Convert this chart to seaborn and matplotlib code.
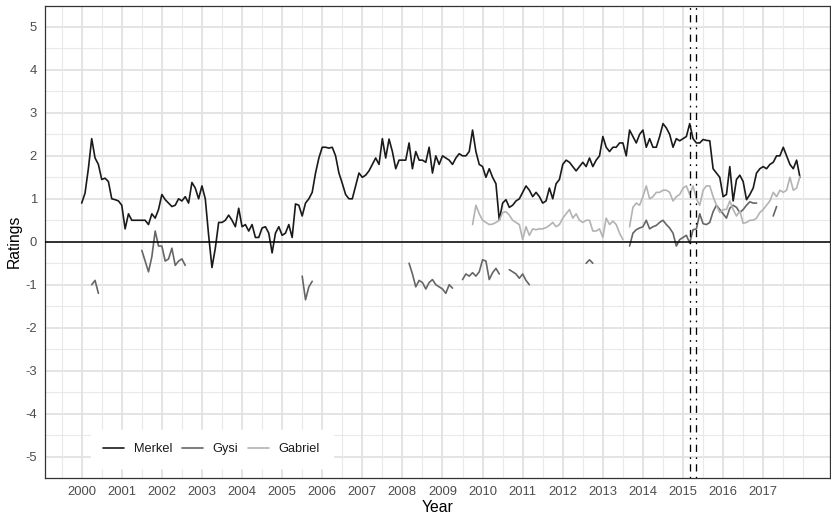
import numpy as np
import pandas as pd
import matplotlib
matplotlib.use("Agg")
import matplotlib.pyplot as plt
import seaborn as sns

# ---------------- data (monthly ratings, first value = Jan 2000) ----------------
merkel = [
    0.9, 1.13, 1.7, 2.4, 1.95, 1.8, 1.45, 1.48, 1.4, 1.0, 0.98, 0.95,          # 2000
    0.85, 0.3, 0.65, 0.5, 0.5, 0.5, 0.5, 0.5, 0.4, 0.65, 0.55, 0.75,          # 2001
    1.1, 0.98, 0.9, 0.82, 0.85, 1.0, 0.95, 1.05, 0.9, 1.38, 1.25, 1.0,         # 2002
    1.3, 1.0, 0.15, -0.6, -0.15, 0.45, 0.45, 0.5, 0.62, 0.5, 0.35, 0.78,      # 2003
    0.35, 0.4, 0.25, 0.4, 0.1, 0.1, 0.32, 0.35, 0.2, -0.26, 0.2, 0.35,        # 2004
    0.15, 0.2, 0.4, 0.1, 0.88, 0.85, 0.6, 0.9, 1.0, 1.15, 1.6, 1.95,          # 2005
    2.2, 2.2, 2.18, 2.2, 2.0, 1.6, 1.36, 1.1, 1.0, 1.0, 1.3, 1.6,             # 2006
    1.5, 1.55, 1.65, 1.8, 1.95, 1.8, 2.4, 1.95, 2.39, 2.1, 1.7, 1.9,          # 2007
    1.9, 1.9, 2.3, 1.7, 2.1, 1.9, 1.9, 1.85, 2.2, 1.6, 2.0, 1.8,              # 2008
    2.0, 1.95, 1.9, 1.8, 1.95, 2.05, 2.0, 2.0, 2.1, 2.6, 2.1, 1.8,            # 2009
    1.75, 1.5, 1.7, 1.5, 1.35, 0.5, 0.9, 0.98, 0.8, 0.85, 0.95, 1.0,          # 2010
    1.15, 1.3, 1.2, 1.05, 1.15, 1.05, 0.9, 0.95, 1.25, 1.0, 1.35, 1.45,       # 2011
    1.8, 1.9, 1.85, 1.75, 1.65, 1.75, 1.85, 1.75, 1.95, 1.75, 1.9, 2.0,       # 2012
    2.45, 2.2, 2.1, 2.2, 2.2, 2.3, 2.3, 2.0, 2.6, 2.45, 2.3, 2.5,             # 2013
    2.6, 2.2, 2.4, 2.2, 2.2, 2.45, 2.75, 2.65, 2.5, 2.2, 2.4, 2.35,           # 2014
    2.4, 2.45, 2.75, 2.4, 2.3, 2.3, 2.38, 2.36, 2.35, 1.7, 1.6, 1.5,          # 2015
    1.05, 1.1, 1.75, 0.95, 1.45, 1.55, 1.4, 0.98, 1.1, 1.25, 1.6, 1.7,        # 2016
    1.75, 1.7, 1.8, 1.85, 2.0, 2.0, 2.2, 2.0, 1.8, 1.7, 1.9, 1.5,             # 2017
]

# (first month, monthly values) for each uninterrupted stretch
gysi_segments = [
    ("2000-04", [-1.0, -0.9, -1.2]),
    ("2001-07", [-0.2, -0.45, -0.7, -0.35, 0.25, -0.1, -0.1, -0.45, -0.4, -0.15,
                 -0.55, -0.45, -0.4, -0.55]),
    ("2005-07", [-0.8, -1.35, -1.05, -0.92]),
    ("2008-03", [-0.5, -0.75, -1.05, -0.9, -0.95, -1.1, -0.95, -0.88, -1.0, -1.05,
                 -1.1, -1.2, -1.0, -1.08]),
    ("2009-07", [-0.88, -0.75, -0.8, -0.72, -0.8, -0.7, -0.42, -0.45, -0.88, -0.72,
                 -0.62, -0.75]),
    ("2010-09", [-0.65, -0.7, -0.75, -0.85, -0.75, -0.9, -1.0]),
    ("2012-08", [-0.5, -0.42, -0.5]),
    ("2013-09", [-0.1, 0.2, 0.28, 0.32, 0.35, 0.5, 0.3, 0.35, 0.38, 0.45, 0.5, 0.4,
                 0.32, 0.2, -0.1, 0.05, 0.1, 0.15, -0.03, 0.28, 0.3, 0.65, 0.42, 0.4,
                 0.45, 0.7, 0.85, 0.75, 0.65, 0.55, 0.78, 0.85, 0.8, 0.68, 0.75, 0.85,
                 0.93, 0.9, 0.9]),
    ("2017-04", [0.6, 0.82]),
]

gabriel_segments = [
    ("2009-10", [0.4, 0.85, 0.65,
                 0.5, 0.45, 0.4, 0.41, 0.45, 0.5, 0.68, 0.7, 0.62, 0.5, 0.45, 0.4,
                 0.05, 0.35, 0.15, 0.3, 0.28, 0.3, 0.3, 0.33, 0.38, 0.45, 0.35, 0.4,
                 0.55, 0.65, 0.75, 0.55, 0.65, 0.5, 0.45, 0.5, 0.5, 0.25, 0.25, 0.3,
                 0.1, 0.55, 0.4, 0.48, 0.4, 0.2, 0.05]),
    ("2013-09", [0.35, 0.8, 0.9, 0.85,
                 1.05, 1.3, 1.0, 1.05, 1.15, 1.15, 1.2, 1.2, 1.15, 0.95, 1.05, 1.1,
                 1.25, 1.3, 1.1, 1.3, 1.0, 0.85, 1.2, 1.3, 1.3, 1.05, 0.85, 0.68,
                 0.75, 0.75, 0.95, 0.75, 0.6, 0.72, 0.43, 0.45, 0.5, 0.5, 0.55, 0.68,
                 0.75, 0.85, 0.95, 1.15, 1.05, 1.2, 1.15, 1.2, 1.5, 1.2, 1.25, 1.52]),
]

politicians = ["Merkel", "Gysi", "Gabriel"]
line_colors = ["#1A1A1A", "#666666", "#B3B3B3"]
event_dates = ["2015-03-01", "2015-05-01"]
year_ticks = list(range(2000, 2018))
rating_ticks = list(range(-5, 6))


def month_to_year(ym):
    y, m = ym.split("-")
    return int(y) + (int(m) - 1) / 12.0


def date_to_year(d):
    t = pd.Timestamp(d)
    return t.year + (t.dayofyear - 1) / 365.0


rows = []
for i, v in enumerate(merkel):
    rows.append(("Merkel", "Merkel-0", 2000 + i / 12.0, v))
for name, segs in (("Gysi", gysi_segments), ("Gabriel", gabriel_segments)):
    for k, (start, vals) in enumerate(segs):
        y0 = month_to_year(start)
        for j, v in enumerate(vals):
            rows.append((name, f"{name}-{k}", y0 + j / 12.0, v))
df = pd.DataFrame(rows, columns=["politician", "segment", "year", "rating"])

# ---------------- styling ----------------
sns.set_style("white")
plt.rcParams["font.family"] = ["Liberation Sans", "DejaVu Sans"]

W, H = 831, 517
fig = plt.figure(figsize=(W / 100, H / 100), dpi=100)
ax = fig.add_axes([45 / W, 1 - 478 / H, 785 / W, 472.5 / H])

grid_major = "#E2E2E2"
grid_minor = "#E9E9E9"
for yv in rating_ticks:
    ax.axhline(yv, color=grid_major, lw=1.3, zorder=0)
for yv in np.arange(-4.5, 5.0, 1.0):
    ax.axhline(yv, color=grid_minor, lw=0.8, zorder=0)
for xv in year_ticks:
    ax.axvline(xv, color=grid_major, lw=1.3, zorder=0)
for xv in list(np.arange(1999.5, 2018.0, 1.0)) + [2018.0]:
    ax.axvline(xv, color=grid_minor, lw=0.8, zorder=0)

sns.lineplot(data=df, x="year", y="rating", hue="politician", hue_order=politicians,
             palette=dict(zip(politicians, line_colors)), units="segment",
             estimator=None, lw=1.2, ax=ax, zorder=3)

ax.axhline(0, color="black", lw=1.1, zorder=4)
for d in event_dates:
    ax.axvline(date_to_year(d), color="black", lw=0.95, zorder=4,
               dashes=(1.3, 4.0, 5.5, 4.0))

ax.set_xlim(1999.085, 2018.666)
ax.set_ylim(-5.5, 5.5)
ax.set_xticks(year_ticks)
ax.set_xticklabels([str(y) for y in year_ticks])
ax.set_yticks(rating_ticks)
ax.set_yticklabels([str(y) for y in rating_ticks])
ax.tick_params(axis="both", length=3.5, width=0.8, color="#333333",
               labelsize=9.4, labelcolor="#4D4D4D", pad=2.2, direction="out")
ax.set_xlabel("Year", fontsize=11.3, color="black", labelpad=1.5)
ax.set_ylabel("Ratings", fontsize=11.3, color="black", labelpad=3)

for sp in ax.spines.values():
    sp.set_visible(True)
    sp.set_color("#333333")
    sp.set_linewidth(0.9)

handles, labels = ax.get_legend_handles_labels()
if ax.get_legend() is not None:
    ax.get_legend().remove()
leg = ax.legend(handles[:3], labels[:3], ncol=3, loc="center left",
                bbox_to_anchor=(0.05, 0.061), fontsize=9.2, frameon=True,
                fancybox=False, framealpha=1, edgecolor="white", facecolor="white",
                handlelength=1.65, handletextpad=0.75, columnspacing=0.75,
                borderpad=1.0)
leg.set_zorder(5)
for t in leg.get_texts():
    t.set_color("#1A1A1A")

fig.savefig("out.png", dpi=100)
